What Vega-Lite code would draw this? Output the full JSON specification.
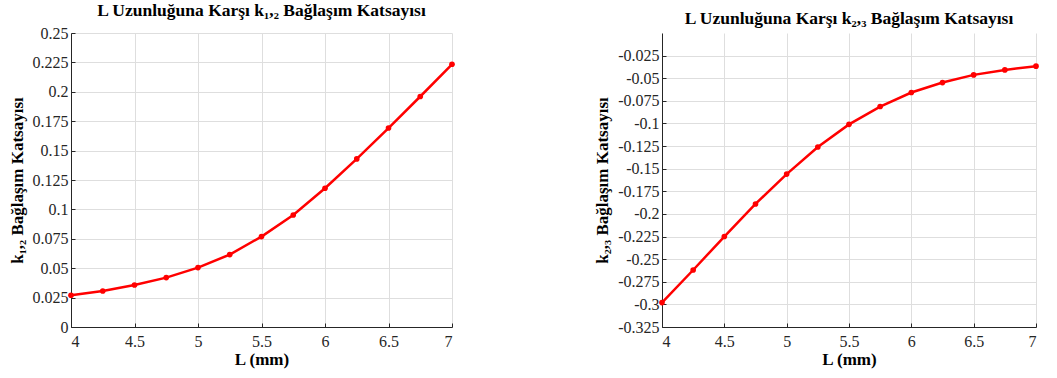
{
  "$schema": "https://vega.github.io/schema/vega-lite/v6.json",
  "background": "white",
  "padding": {"left": 8, "top": 1, "right": 5, "bottom": 4},
  "spacing": 136,
  "config": {
    "locale": {"number": {"decimal": ".", "thousands": ",", "grouping": [3], "currency": ["$", ""], "minus": "-"}},
    "view": {"stroke": null},
    "font": "Liberation Serif",
    "title": {"font": "Liberation Serif", "fontSize": 17.5, "fontWeight": "bold", "color": "#000000", "anchor": "middle", "offset": 6},
    "axis": {
      "labelFont": "Liberation Serif", "labelFontSize": 16, "labelColor": "#262626",
      "titleFont": "Liberation Serif", "titleFontSize": 17, "titleFontWeight": "bold", "titleColor": "#000000",
      "domainColor": "#262626", "domainWidth": 1, "tickColor": "#262626", "tickSize": -4,
      "gridColor": "#dedede", "gridWidth": 1
    }
  },
  "datasets": {
    "k12": [
      {"L": 4.0, "k": 0.0270}, {"L": 4.25, "k": 0.0306}, {"L": 4.5, "k": 0.0357}, {"L": 4.75, "k": 0.0420},
      {"L": 5.0, "k": 0.0505}, {"L": 5.25, "k": 0.0616}, {"L": 5.5, "k": 0.0769}, {"L": 5.75, "k": 0.0952},
      {"L": 6.0, "k": 0.1180}, {"L": 6.25, "k": 0.1429}, {"L": 6.5, "k": 0.1692}, {"L": 6.75, "k": 0.1960},
      {"L": 7.0, "k": 0.2234}
    ],
    "k23": [
      {"L": 4.0, "k": -0.298}, {"L": 4.25, "k": -0.262}, {"L": 4.5, "k": -0.225}, {"L": 4.75, "k": -0.189},
      {"L": 5.0, "k": -0.156}, {"L": 5.25, "k": -0.126}, {"L": 5.5, "k": -0.101}, {"L": 5.75, "k": -0.0813},
      {"L": 6.0, "k": -0.0658}, {"L": 6.25, "k": -0.0548}, {"L": 6.5, "k": -0.0463}, {"L": 6.75, "k": -0.0408},
      {"L": 7.0, "k": -0.0367}
    ]
  },
  "hconcat": [
    {
      "width": 381, "height": 294,
      "title": "L Uzunluğuna Karşı k₁,₂ Bağlaşım Katsayısı",
      "data": {"name": "k12"},
      "encoding": {
        "x": {"field": "L", "type": "quantitative", "scale": {"domain": [4, 7], "nice": false, "zero": false},
              "axis": {"title": "L (mm)", "values": [4, 4.5, 5, 5.5, 6, 6.5, 7], "format": ".1~f", "labelFont": "Liberation Serif", "labelPadding": 10, "titlePadding": 2}},
        "y": {"field": "k", "type": "quantitative", "scale": {"domain": [0, 0.25], "nice": false},
              "axis": {"title": "k₁,₂ Bağlaşım Katsayısı", "values": [0, 0.025, 0.05, 0.075, 0.1, 0.125, 0.15, 0.175, 0.2, 0.225, 0.25], "format": ".3~f", "labelFont": "Liberation Serif", "labelPadding": 7, "titlePadding": 6}}
      },
      "layer": [
        {"mark": {"type": "line", "color": "#ff0000", "strokeWidth": 2.5}},
        {"mark": {"type": "point", "filled": true, "color": "#ff0000", "opacity": 1, "size": 32}}
      ]
    },
    {
      "width": 374, "height": 294,
      "title": "L Uzunluğuna Karşı k₂,₃ Bağlaşım Katsayısı",
      "data": {"name": "k23"},
      "encoding": {
        "x": {"field": "L", "type": "quantitative", "scale": {"domain": [4, 7], "nice": false, "zero": false},
              "axis": {"title": "L (mm)", "values": [4, 4.5, 5, 5.5, 6, 6.5, 7], "format": ".1~f", "labelFont": "Liberation Serif", "labelPadding": 10, "titlePadding": 2}},
        "y": {"field": "k", "type": "quantitative", "scale": {"domain": [-0.325, 0], "nice": false, "zero": false},
              "axis": {"title": "k₂,₃ Bağlaşım Katsayısı", "values": [-0.325, -0.3, -0.275, -0.25, -0.225, -0.2, -0.175, -0.15, -0.125, -0.1, -0.075, -0.05, -0.025], "format": ".3~f", "labelFont": "Liberation Serif", "labelPadding": 7, "titlePadding": 6}}
      },
      "layer": [
        {"mark": {"type": "line", "color": "#ff0000", "strokeWidth": 2.5}},
        {"mark": {"type": "point", "filled": true, "color": "#ff0000", "opacity": 1, "size": 32}}
      ]
    }
  ]
}
